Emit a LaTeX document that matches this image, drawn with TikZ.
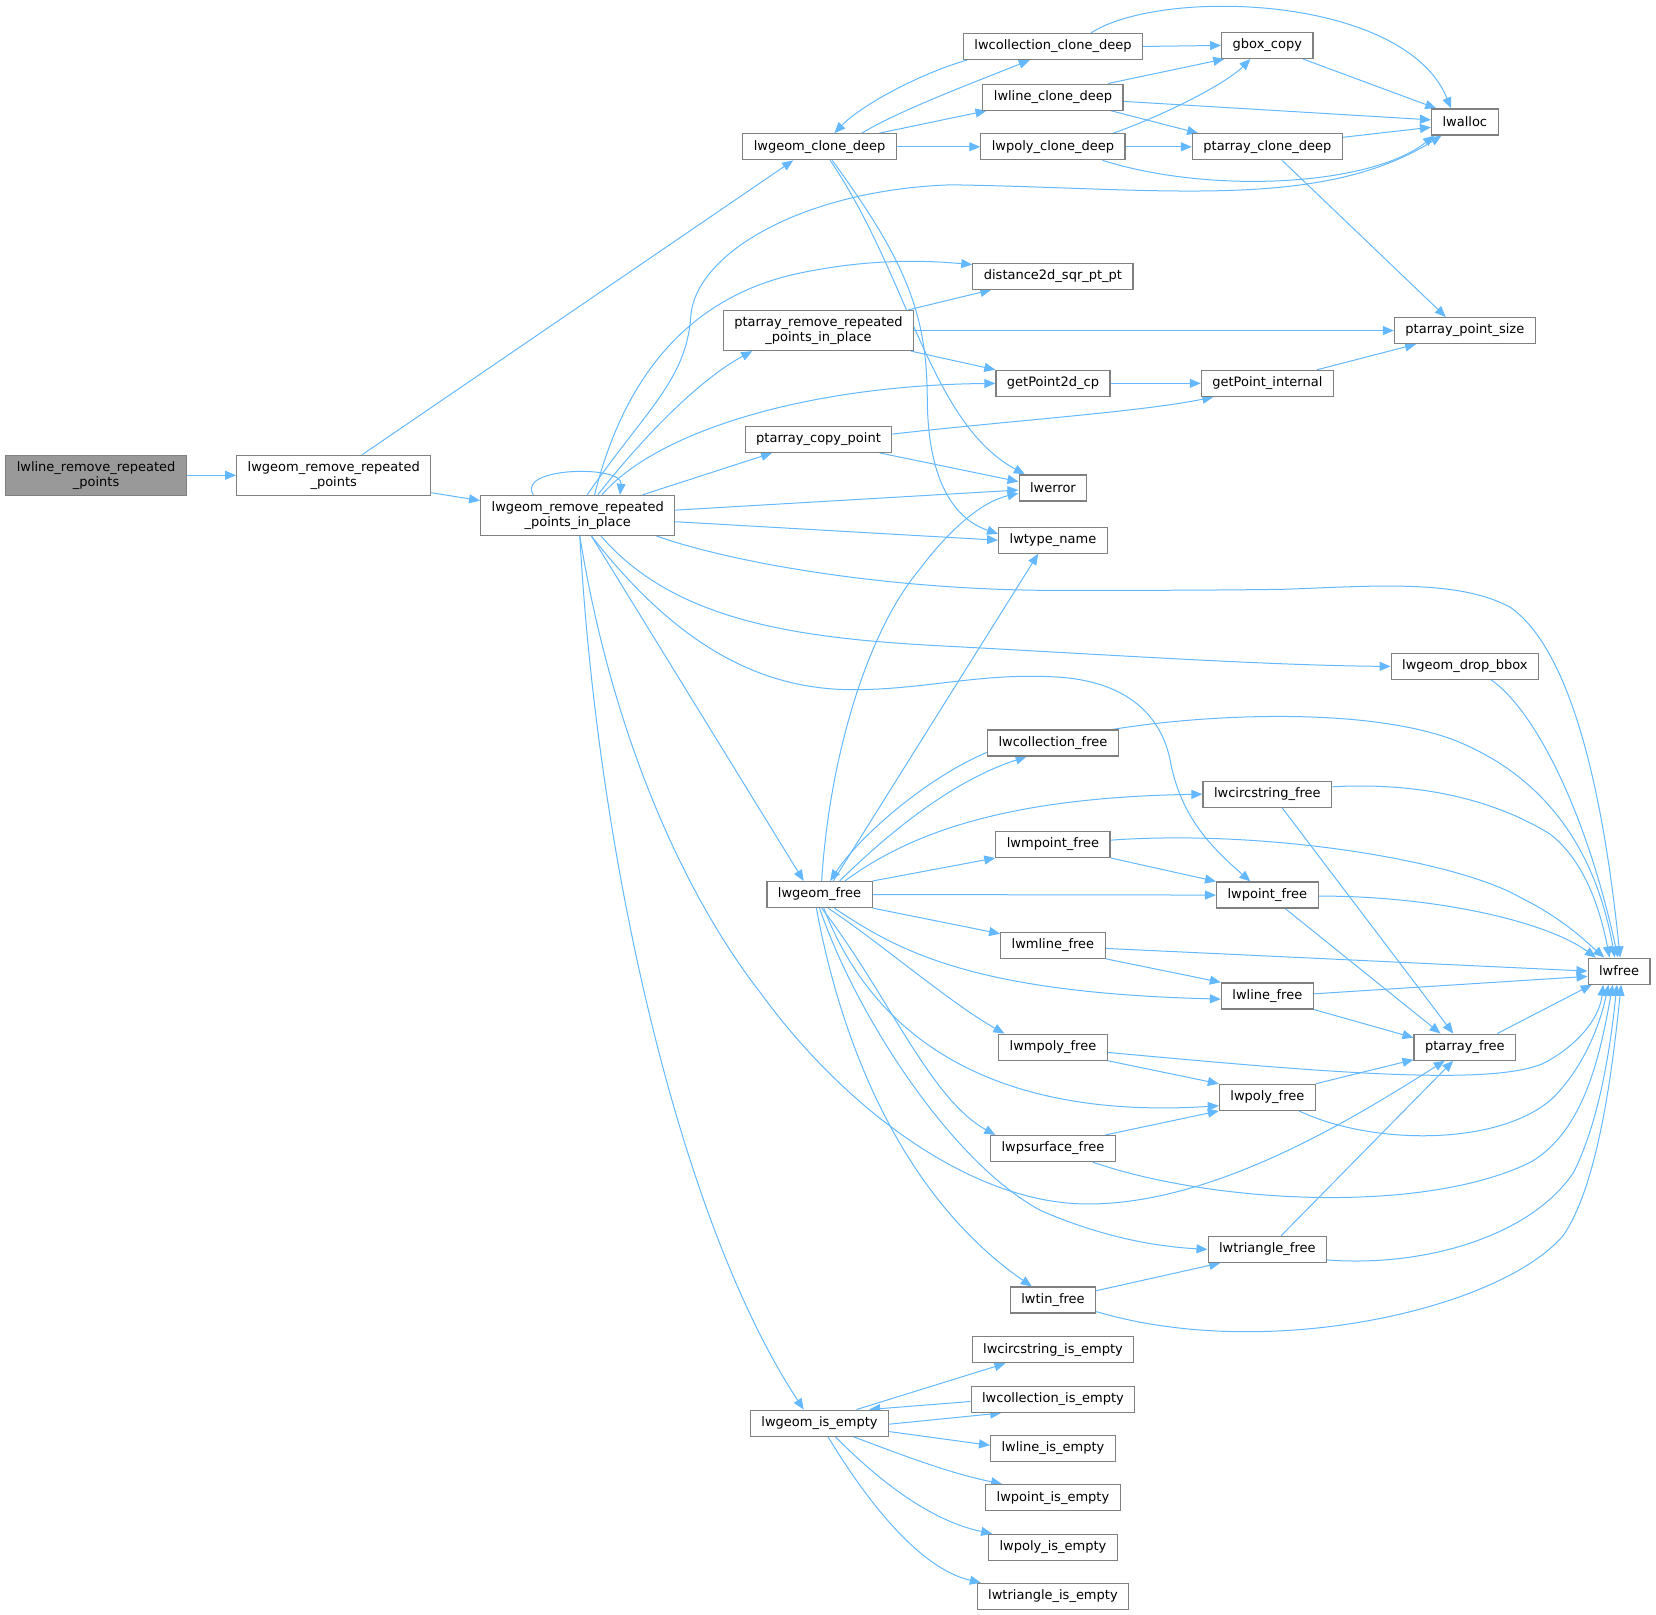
\documentclass[tikz,border=0pt]{standalone}
\usepackage{fontspec}
\setmainfont{DejaVu Sans}
\usetikzlibrary{arrows.meta,calc}
\definecolor{edgec}{HTML}{63B8FF}
\definecolor{bordc}{HTML}{808080}
\definecolor{rootc}{HTML}{999999}
\pgfdeclarelayer{bg}
\pgfsetlayers{bg,main}
\begin{document}
\begin{tikzpicture}[x=1.0561pt,y=-1.0561pt,
  fn/.style={draw=bordc, fill=white, line width=1.2pt, font=\fontsize{13}{15}\selectfont, inner xsep=11pt, inner ysep=1pt, minimum height=26pt, align=center},
  fn2/.style={fn, minimum height=40pt},
  e/.style={draw=edgec, line width=1pt, -{Triangle[length=11pt,width=9pt]}}]
\useasboundingbox (0,0) rectangle (1568,1529);
% nodes
\node[fn2, fill=rootc] (root) at (91,450) {lwline\_remove\_repeated\\\_points};
\node[fn2] (lrrp) at (316,450) {lwgeom\_remove\_repeated\\\_points};
\node[fn2] (ipl) at (547,488) {lwgeom\_remove\_repeated\\\_points\_in\_place};
\node[fn] (cd) at (776,139) {lwgeom\_clone\_deep};
\node[fn] (ccd) at (997,44) {lwcollection\_clone\_deep};
\node[fn] (lcd) at (997,92) {lwline\_clone\_deep};
\node[fn] (pcd) at (997,139) {lwpoly\_clone\_deep};
\node[fn] (gbox) at (1200,43) {gbox\_copy};
\node[fn] (pacd) at (1200,139) {ptarray\_clone\_deep};
\node[fn] (alloc) at (1387,115.5) {lwalloc};
\node[fn] (dist) at (997,261.5) {distance2d\_sqr\_pt\_pt};
\node[fn2] (prr) at (775,313) {ptarray\_remove\_repeated\\\_points\_in\_place};
\node[fn] (pps) at (1387,313) {ptarray\_point\_size};
\node[fn] (gp2) at (997,363) {getPoint2d\_cp};
\node[fn] (gpi) at (1200,363) {getPoint\_internal};
\node[fn] (pcp) at (775,416) {ptarray\_copy\_point};
\node[fn] (err) at (997,462) {lwerror};
\node[fn] (tn) at (997,511.5) {lwtype\_name};
\node[fn] (dbb) at (1387,631) {lwgeom\_drop\_bbox};
\node[fn] (colf) at (997,703.5) {lwcollection\_free};
\node[fn] (circf) at (1200,752) {lwcircstring\_free};
\node[fn] (mptf) at (997,799.5) {lwmpoint\_free};
\node[fn] (gf) at (776,847) {lwgeom\_free};
\node[fn] (ptf) at (1200,847.5) {lwpoint\_free};
\node[fn] (mlf) at (997,895) {lwmline\_free};
\node[fn] (fr) at (1533,919.5) {lwfree};
\node[fn] (lf) at (1200,943) {lwline\_free};
\node[fn] (paf) at (1387,991.5) {ptarray\_free};
\node[fn] (mpf) at (997,991.5) {lwmpoly\_free};
\node[fn] (pf) at (1200,1039) {lwpoly\_free};
\node[fn] (psf) at (997,1087.5) {lwpsurface\_free};
\node[fn] (trf) at (1200,1183) {lwtriangle\_free};
\node[fn] (tinf) at (997,1231) {lwtin\_free};
\node[fn] (cie) at (997,1278) {lwcircstring\_is\_empty};
\node[fn] (colie) at (997,1325) {lwcollection\_is\_empty};
\node[fn] (gie) at (776,1347.5) {lwgeom\_is\_empty};
\node[fn] (lie) at (997,1371.5) {lwline\_is\_empty};
\node[fn] (pie) at (997,1418) {lwpoint\_is\_empty};
\node[fn] (polie) at (997,1465) {lwpoly\_is\_empty};
\node[fn] (trie) at (997,1511.5) {lwtriangle\_is\_empty};
% edges
\begin{pgfonlayer}{bg}
\draw[e] (root.east) -- (lrrp.west);
\draw[e] ($(lrrp.north)+(27,0)$) -- ($(cd.south)+(-25,0)$);
\draw[e] ($(lrrp.south east)+(0,-3)$) -- ($(ipl.west)+(0,-14)$);
% clone deep
\draw[e] ($(cd.north)+(40,0)$) .. controls (850,105) and (930,75) .. ($(ccd.south)+(-22,0)$);
\draw[e] ($(ccd.south west)+(4,0)$) .. controls (870,70) and (815,100) .. ($(cd.north)+(14,0)$);
\draw[e] ($(cd.north east)+(-17,0)$) -- ($(lcd.south west)+(4,0)$);
\draw[e] (cd.east) -- (pcd.west);
\draw[e] ($(cd.south)+(10,0)$) .. controls (860,260) and (880,400) .. ($(err.north west)+(6,0)$);
\draw[e] ($(cd.south)+(12,0)$) .. controls (860,250) and (878,300) .. (878,380) .. controls (879,450) and (900,490) .. ($(tn.west)+(0,-6)$);
\draw[e] (ccd.east) -- (gbox.west);
\draw[e] ($(ccd.north)+(36,0)$) .. controls (1100,-12) and (1330,-5) .. ($(alloc.north)+(-13,0)$);
\draw[e] ($(lcd.north)+(52,0)$) -- ($(gbox.south west)+(3,0)$);
\draw[e] ($(lcd.east)+(0,4)$) -- ($(alloc.west)+(0,-2)$);
\draw[e] ($(lcd.south)+(55,0)$) -- ($(pacd.north west)+(6,0)$);
\draw[e] ($(pcd.north)+(57,0)$) .. controls (1100,110) and (1160,80) .. ($(gbox.south)+(-16,0)$);
\draw[e] (pcd.east) -- (pacd.west);
\draw[e] ($(pcd.south)+(47,0)$) .. controls (1150,185) and (1300,175) .. ($(alloc.south west)+(3,0)$);
\draw[e] ($(gbox.south east)+(-10,0)$) -- ($(alloc.north west)+(5,0)$);
\draw[e] ($(pacd.east)+(0,-9)$) -- ($(alloc.west)+(0,5)$);
\draw[e] ($(pacd.south)+(14,0)$) -- ($(pps.north)+(-18,0)$);
% middle
\draw[e] ($(prr.north east)+(-6,0)$) -- ($(dist.south west)+(18,0)$);
\draw[e] (prr.east) -- (pps.west);
\draw[e] ($(prr.south east)+(-3,0)$) -- (gp2.north west);
\draw[e] (gp2.east) -- (gpi.west);
\draw[e] ($(gpi.north east)+(-16,0)$) -- ($(pps.south west)+(21,0)$);
\draw[e] ($(pcp.east)+(0,-5)$) .. controls (960,398) and (1080,390) .. ($(gpi.south west)+(12,0)$);
\draw[e] ($(pcp.south east)+(-12,0)$) -- ($(err.west)+(0,-6)$);
% ipl top
\draw[e] ($(ipl.north)+(-42,0)$) .. controls (488,442) and (590,440) .. ($(ipl.north)+(40,0)$);
\draw[e] ($(ipl.north)+(9,0)$) .. controls (610,390) and (650,360) .. (654,300) .. controls (658,240) and (760,180) .. (900,175) .. controls (1100,178) and (1250,200) .. ($(alloc.south west)+(10,0)$);
\draw[e] ($(ipl.north)+(16,0)$) .. controls (590,360) and (650,280) .. (760,258) .. controls (830,244) and (880,247) .. ($(dist.west)+(0,-11)$);
\draw[e] ($(ipl.north)+(19,0)$) .. controls (620,400) and (670,355) .. ($(prr.south west)+(28,0)$);
\draw[e] ($(ipl.north)+(23,0)$) .. controls (620,410) and (760,365) .. (gp2.west);
\draw[e] ($(ipl.north east)+(-31,0)$) -- ($(pcp.south west)+(26,0)$);
\draw[e] ($(ipl.east)+(0,-5)$) -- ($(err.west)+(0,2)$);
\draw[e] ($(ipl.east)+(0,6)$) -- (tn.west);
% ipl bottom
\draw[e] ($(ipl.south east)+(-18,0)$) .. controls (700,535) and (850,559) .. (1000,559) .. controls (1080,559) and (1140,559) .. (1215,558) .. controls (1300,555) and (1380,548) .. (1430,575) .. controls (1480,610) and (1515,720) .. ($(fr.north)+(1,0)$);
\draw[e] ($(ipl.south)+(22,0)$) .. controls (640,590) and (760,605) .. (900,612) .. controls (1050,620) and (1200,630) .. (dbb.west);
\draw[e] ($(ipl.south)+(13,0)$) .. controls (640,610) and (720,655) .. (814,653) .. controls (880,652) and (930,637) .. (1000,641) .. controls (1070,645) and (1100,680) .. (1108,720) .. controls (1118,775) and (1150,805) .. ($(ptf.north)+(-16,0)$);
\draw[e] ($(ipl.south)+(13,0)$) -- ($(gf.north)+(-15,0)$);
\draw[e] ($(ipl.south)+(2,0)$) .. controls (580,700) and (650,850) .. (720,940) .. controls (800,1050) and (920,1140) .. (1030,1140) .. controls (1150,1140) and (1280,1060) .. ($(paf.south)+(-19,0)$);
\draw[e] ($(ipl.south)+(2,0)$) .. controls (565,800) and (640,1150) .. ($(gie.north)+(-15,0)$);
% lwgeom_free
\draw[e] ($(gf.north)+(2,0)$) .. controls (785,720) and (820,600) .. (870,540) .. controls (900,500) and (930,475) .. ($(err.west)+(0,5)$);
\draw[e] ($(gf.north)+(13,0)$) -- ($(tn.south)+(-14,0)$);
\draw[e] ($(colf.south west)+(0,-4)$) .. controls (880,735) and (815,790) .. ($(gf.north)+(10,0)$);
\draw[e] ($(gf.north)+(19,0)$) .. controls (840,790) and (900,740) .. ($(colf.south)+(-25,0)$);
\draw[e] ($(gf.north)+(24,0)$) .. controls (860,790) and (950,755) .. (circf.west);
\draw[e] (gf.north east) -- (mptf.south west);
\draw[e] (gf.east) -- (ptf.west);
\draw[e] (gf.south east) -- ($(mlf.north west)+(0,2)$);
\draw[e] ($(gf.south)+(14,0)$) .. controls (850,900) and (920,940) .. ($(lf.west)+(0,3)$);
\draw[e] ($(gf.south)+(8,0)$) .. controls (830,890) and (900,950) .. ($(mpf.north west)+(6,0)$);
\draw[e] ($(gf.south)+(4,0)$) .. controls (830,990) and (950,1060) .. ($(pf.west)+(0,8)$);
\draw[e] ($(gf.south)+(2,0)$) .. controls (840,940) and (880,1040) .. ($(psf.north west)+(5,0)$);
\draw[e] (gf.south) .. controls (810,960) and (900,1100) .. (985,1146) .. controls (1040,1170) and (1090,1180) .. (trf.west);
\draw[e] ($(gf.south)+(-3,0)$) .. controls (795,980) and (850,1130) .. ($(tinf.north)+(-20,0)$);
% to lwfree
\draw[e] ($(colf.north east)+(-6,0)$) .. controls (1150,675) and (1300,670) .. (1380,702) .. controls (1460,735) and (1510,800) .. ($(fr.north)+(-4,0)$);
\draw[e] ($(circf.east)+(0,-7)$) .. controls (1350,740) and (1420,760) .. (1468,790) .. controls (1500,815) and (1515,860) .. ($(fr.north)+(-9,0)$);
\draw[e] ($(mptf.east)+(0,-4)$) .. controls (1200,785) and (1380,815) .. (1440,850) .. controls (1480,870) and (1500,890) .. ($(fr.north)+(-14,0)$);
\draw[e] ($(ptf.east)+(0,1)$) .. controls (1350,848) and (1460,870) .. ($(fr.north west)+(8,0)$);
\draw[e] ($(dbb.south)+(25,0)$) .. controls (1450,670) and (1500,760) .. ($(fr.north)+(-1,0)$);
\draw[e] (mptf.south east) -- (ptf.north west);
\draw[e] ($(mlf.east)+(0,3)$) -- (fr.west);
\draw[e] (mlf.south east) -- (lf.north west);
\draw[e] ($(lf.east)+(0,-2)$) -- ($(fr.west)+(0,5)$);
\draw[e] (lf.south east) -- ($(paf.west)+(0,-9)$);
\draw[e] ($(circf.south)+(14,0)$) -- ($(paf.north)+(-11,0)$);
\draw[e] ($(ptf.south)+(17,0)$) -- ($(paf.north)+(-23,0)$);
\draw[e] ($(paf.north east)+(-18,0)$) -- ($(fr.south west)+(4,0)$);
\draw[e] ($(mpf.east)+(0,5)$) .. controls (1250,1015) and (1420,1030) .. (1465,1005) .. controls (1500,985) and (1515,960) .. ($(fr.south)+(-15,0)$);
\draw[e] (mpf.south east) -- (pf.north west);
\draw[e] (pf.north east) -- ($(paf.south west)+(0,-1)$);
\draw[e] ($(pf.south east)+(-16,0)$) .. controls (1300,1085) and (1420,1085) .. (1470,1040) .. controls (1500,1010) and (1515,970) .. ($(fr.south)+(-10,0)$);
\draw[e] ($(psf.north east)+(-10,0)$) -- (pf.south west);
\draw[e] ($(psf.south east)+(-22,0)$) .. controls (1150,1140) and (1350,1150) .. (1450,1100) .. controls (1500,1070) and (1515,1000) .. ($(fr.south)+(-6,0)$);
\draw[e] ($(trf.north)+(13,0)$) -- ($(paf.south)+(-11,0)$);
\draw[e] ($(trf.east)+(0,10)$) .. controls (1350,1200) and (1450,1170) .. (1490,1110) .. controls (1515,1060) and (1525,990) .. ($(fr.south)+(-2,0)$);
\draw[e] ($(tinf.north east)+(0,4)$) -- ($(trf.south west)+(12,0)$);
\draw[e] ($(tinf.south east)+(0,-2)$) .. controls (1200,1290) and (1420,1240) .. (1480,1170) .. controls (1515,1120) and (1528,1000) .. ($(fr.south)+(2,0)$);
% is_empty
\draw[e] ($(gie.north)+(35,0)$) -- ($(cie.south)+(-45,0)$);
\draw[e] ($(colie.west)+(0,2)$) -- ($(gie.north east)+(-19,0)$);
\draw[e] ($(gie.east)+(0,1)$) -- ($(colie.south)+(-49,0)$);
\draw[e] ($(gie.east)+(0,8)$) -- ($(lie.west)+(0,-3)$);
\draw[e] ($(gie.south)+(32,0)$) .. controls (860,1380) and (900,1395) .. ($(pie.north west)+(16,0)$);
\draw[e] ($(gie.south)+(15,0)$) .. controls (830,1400) and (880,1440) .. ($(polie.north west)+(4,0)$);
\draw[e] ($(gie.south)+(8,0)$) .. controls (820,1420) and (870,1485) .. ($(trie.north west)+(4,0)$);
\end{pgfonlayer}
\end{tikzpicture}
\end{document}
